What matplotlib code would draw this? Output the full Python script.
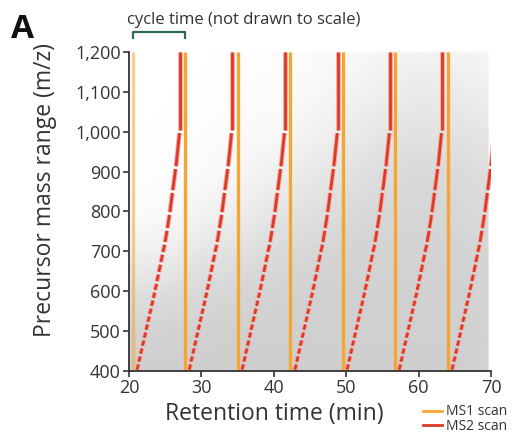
import numpy as np
import matplotlib
matplotlib.use("Agg")
import matplotlib.pyplot as plt
from matplotlib.colors import LinearSegmentedColormap
from matplotlib.lines import Line2D

plt.rcParams['font.family'] = ['Open Sans', 'DejaVu Sans']

# ---------------- data ----------------
ms1_times = [20.5, 27.7, 35.0, 42.3, 49.5, 56.7, 64.0]          # MS1 scan times (min)

# MS2 isolation windows (m/z) and their start offsets after each MS1 scan (min)
window_lo = [400, 420, 440, 460, 480, 500, 520, 540, 560, 580, 600,
             622, 645, 670, 695, 720, 755, 795, 850, 910, 1000]
window_hi = [420, 440, 460, 480, 500, 520, 540, 560, 580, 600, 622,
             645, 670, 695, 720, 755, 795, 850, 910, 1000, 1200]
window_offset = [0.60, 0.85, 1.10, 1.35, 1.60, 1.85, 2.10, 2.35, 2.60, 2.85, 3.10,
                 3.35, 3.62, 3.90, 4.18, 4.48, 4.80, 5.15, 5.55, 6.00, 6.55]

# approximate density of precursor features (grey cloud), rows = m/z, cols = time
density_times = [20, 25, 30, 35, 40, 45, 50, 55, 60, 65, 69.6]
density_mz = [400, 500, 600, 700, 800, 900, 1000, 1100, 1200]
density = [
    [0.85, 0.88, 0.88, 0.88, 0.88, 0.88, 0.88, 0.88, 0.88, 0.88, 0.80],
    [0.78, 0.82, 0.84, 0.86, 0.86, 0.86, 0.86, 0.86, 0.86, 0.86, 0.80],
    [0.55, 0.60, 0.68, 0.75, 0.78, 0.82, 0.84, 0.84, 0.84, 0.84, 0.78],
    [0.25, 0.30, 0.45, 0.55, 0.65, 0.72, 0.78, 0.80, 0.80, 0.80, 0.74],
    [0.06, 0.10, 0.20, 0.32, 0.45, 0.55, 0.65, 0.72, 0.75, 0.72, 0.65],
    [0.02, 0.04, 0.08, 0.15, 0.25, 0.40, 0.50, 0.62, 0.68, 0.65, 0.60],
    [0.01, 0.02, 0.04, 0.07, 0.12, 0.22, 0.35, 0.45, 0.52, 0.50, 0.45],
    [0.00, 0.01, 0.02, 0.03, 0.06, 0.12, 0.20, 0.30, 0.38, 0.35, 0.30],
    [0.00, 0.00, 0.01, 0.02, 0.03, 0.06, 0.10, 0.16, 0.22, 0.20, 0.16],
]

x_ticks = [20, 30, 40, 50, 60, 70]
y_ticks = [400, 500, 600, 700, 800, 900, 1000, 1100, 1200]
y_ticklabels = ["400", "500", "600", "700", "800", "900", "1,000", "1,100", "1,200"]

# ---------------- figure ----------------
fig = plt.figure(figsize=(5.21, 4.36), dpi=100)
ax = fig.add_axes([0.2476, 0.149, 0.6948, 0.741])

ms1_color = "#f5a632"
ms2_color = "#dc3b2a"
ms2_halo = "#f5a79c"
axis_color = "#333333"

# grey feature cloud
cmap = LinearSegmentedColormap.from_list("cloud", ["#ffffff", "#c8c8c8"])
X, Y = np.meshgrid(density_times, density_mz)
ax.pcolormesh(X, Y, np.array(density), shading="gouraud", cmap=cmap,
              vmin=0, vmax=1, zorder=1)

# MS1 scans
for i, t in enumerate(ms1_times):
    ax.plot([t, t], [400, 1200], color=ms1_color, lw=2.4,
            alpha=0.55 if i == 0 else 1.0, zorder=3, solid_capstyle="butt")

# MS2 scans (staircase of windows within each cycle)
gap = 3.5
for t0 in ms1_times:
    for i in range(len(window_lo)):
        ts = t0 + window_offset[i]
        last = i + 1 == len(window_lo)
        te = ts if last else ts + 0.85 * (window_offset[i + 1] - window_offset[i])
        lo = window_lo[i] + gap
        hi = window_hi[i] - (0 if last else gap)
        for lw, col in ((3.4, ms2_halo), (2.0, ms2_color)):
            ax.plot([ts, te], [lo, hi], color=col, lw=lw, zorder=4,
                    solid_capstyle="butt", clip_on=True)

ax.set_xlim(20, 70)
ax.set_ylim(400, 1210)
ax.set_xticks(x_ticks)
ax.set_yticks(y_ticks)
ax.set_yticklabels(y_ticklabels)
ax.tick_params(axis="both", direction="out", length=4, width=1.2,
               colors=axis_color, labelsize=13, pad=2)
for s in ("top", "right"):
    ax.spines[s].set_visible(False)
for s in ("left", "bottom"):
    ax.spines[s].set_color(axis_color)
    ax.spines[s].set_linewidth(1.3)
    ax.spines[s].set_zorder(5)
ax.spines["left"].set_bounds(400, 1200)

ax.set_xlabel("Retention time (min)", fontsize=16.5, color=axis_color)
ax.xaxis.set_label_coords((274 - 129) / 362, -0.095)
ax.set_ylabel("Precursor mass range (m/z)", fontsize=16.5, color=axis_color)
ax.yaxis.set_label_coords(-0.20, 0.56)

# panel letter and cycle-time bracket
fig.text(0.022, 0.912, "A", fontsize=24, fontweight="bold", color="#111111")
fig.text(0.244, 0.955, "cycle time (not drawn to scale)", fontsize=12,
         color="#333333", va="center")
bracket_color = "#2f6b4f"
yb_top, yb_bot = 1.05, 1.03
ax.plot([ms1_times[0], ms1_times[0], ms1_times[1], ms1_times[1]],
        [yb_bot, yb_top, yb_top, yb_bot], color=bracket_color, lw=1.6,
        transform=ax.get_xaxis_transform(), clip_on=False)

# legend
handles = [Line2D([], [], color=ms1_color, lw=2),
           Line2D([], [], color=ms2_color, lw=2)]
fig.legend(handles, ["MS1 scan", "MS2 scan"], loc="lower left",
           bbox_to_anchor=(0.795, -0.014), frameon=False, fontsize=10,
           handlelength=1.4, handletextpad=0.3, labelspacing=-0.05,
           borderpad=0.1, labelcolor="#333333")

fig.savefig("out.png", dpi=100)
